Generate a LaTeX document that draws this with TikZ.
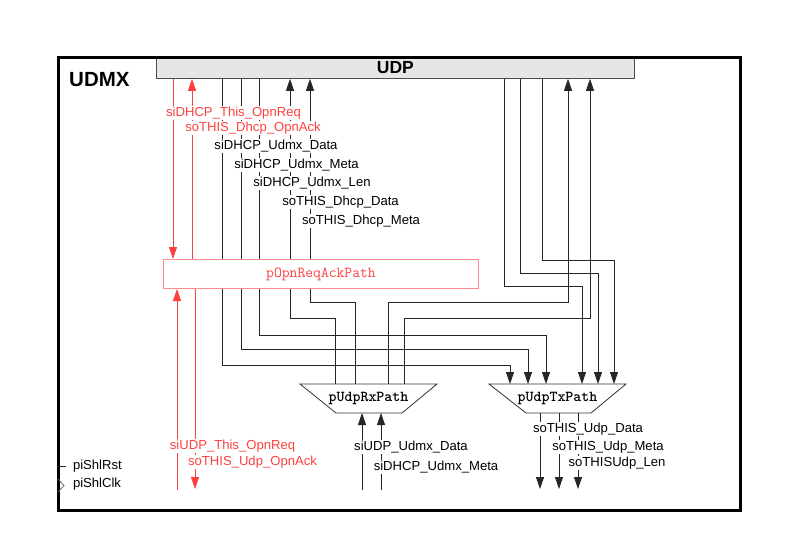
\documentclass[tikz,border=0pt]{standalone}
\usepackage{fontspec}
\setmainfont{Liberation Sans}
\usetikzlibrary{arrows.meta}
\definecolor{redA}{RGB}{255,64,64}
\definecolor{redB}{RGB}{255,140,140}
\definecolor{udpgray}{RGB}{230,230,230}
\begin{document}
\begin{tikzpicture}[x=1pt,y=-1pt,
 sig/.style={draw=black!85, line width=0.8pt},
 arr/.style={sig, -{Triangle[length=12pt,width=8pt]}},
 rsig/.style={draw=redA, line width=0.8pt},
 rarr/.style={rsig, -{Triangle[length=12pt,width=8pt]}},
 lbl/.style={fill=white, inner sep=0.8pt, font=\fontsize{13.1}{14}\selectfont, text height=9.6pt, text depth=2.6pt},
 rlbl/.style={lbl, text=redA},
 mono/.style={font=\ttfamily\bfseries\fontsize{15.2}{16}\selectfont},
 trap/.style={draw=black!80, line width=0.8pt, fill=white}
]
\useasboundingbox (0,0) rectangle (794,559);
% UDP block
\node[draw=black!70, fill=udpgray, line width=0.8pt, minimum width=478pt, minimum height=22pt,
      inner sep=0, anchor=north west, font=\bfseries\fontsize{17.5}{18}\selectfont] (udp) at (156,56) {UDP};
% outer frame
\node[draw, line width=3pt, minimum width=682pt, minimum height=453pt, inner sep=0, anchor=north west] (frame) at (57,56) {};
\node[anchor=west, inner sep=0, font=\bfseries\fontsize{20.5}{22}\selectfont] (title) at (69,80) {UDMX};

% trapezoid reference points
\coordinate (rxtop) at (368.5,384);
\coordinate (rxbot) at (368.5,413);
\coordinate (txtop) at (557.5,384);
\coordinate (txbot) at (557.5,413);

% UDP -> Tx (from DHCP side)
\draw[arr] (222,0 |- udp.south) |- (510,365) -- (510,0 |- txtop);
\draw[arr] (241,0 |- udp.south) |- (528,349) -- (528,0 |- txtop);
\draw[arr] (259,0 |- udp.south) |- (546,335) -- (546,0 |- txtop);
% Rx -> UDP
\draw[arr] (335,0 |- rxtop) |- (290,318) -- (290,0 |- udp.south);
\draw[arr] (355,0 |- rxtop) |- (310,302) -- (310,0 |- udp.south);
\draw[arr] (388,0 |- rxtop) |- (568,302) -- (568,0 |- udp.south);
\draw[arr] (404,0 |- rxtop) |- (590,318) -- (590,0 |- udp.south);
% UDP -> Tx
\draw[arr] (504,0 |- udp.south) |- (582,286) -- (582,0 |- txtop);
\draw[arr] (520,0 |- udp.south) |- (598,273) -- (598,0 |- txtop);
\draw[arr] (542,0 |- udp.south) |- (614,260) -- (614,0 |- txtop);

% pOpnReqAckPath
\node[draw=redB, fill=white, line width=1pt, minimum width=315pt, minimum height=29pt, inner sep=0,
      anchor=north west, text=redA, font=\ttfamily\fontsize{15.2}{16}\selectfont] (ack) at (163,259) {pOpnReqAckPath};

% red signals
\draw[rarr] (173,0 |- udp.south) -- (173,0 |- ack.north);
\draw[rarr] (192,0 |- ack.north) -- (192,0 |- udp.south);
\coordinate (r1) at (177,490);
\coordinate (r2) at (195,489);
\draw[rarr] (r1) -- (r1 |- ack.south);
\draw[rarr] (r2 |- ack.south) -- (r2);

% trapezoids
\draw[trap] (300,384) -- (437,384) -- (402,413) -- (336,413) -- cycle;
\node[mono] (rx) at (368.5,398) {pUdpRxPath};
\draw[trap] (489,384) -- (626,384) -- (591,413) -- (526,413) -- cycle;
\node[mono] (tx) at (557.5,398) {pUdpTxPath};

% Rx inputs
\coordinate (i1) at (362,490);
\coordinate (i2) at (381,490);
\draw[arr] (i1) -- (i1 |- rxbot);
\draw[arr] (i2) -- (i2 |- rxbot);
% Tx outputs
\coordinate (o1) at (540,489);
\coordinate (o2) at (559,489);
\coordinate (o3) at (578,489);
\draw[arr] (o1 |- txbot) -- (o1);
\draw[arr] (o2 |- txbot) -- (o2);
\draw[arr] (o3 |- txbot) -- (o3);

% ports
\draw[black!85, line width=0.8pt] (58,466) -- (66,466);
\draw[black!60, line width=0.8pt] (58,479) -- (64,485.5) -- (58,492);
\node[lbl, anchor=west] (rst) at (72,466) {piShlRst};
\node[lbl, anchor=west] (clk) at (72,484) {piShlClk};

% labels top
\node[rlbl] (l1) at (233.5,113) {siDHCP\_This\_OpnReq};
\node[rlbl] (l2) at (253,128) {soTHIS\_Dhcp\_OpnAck};
\node[lbl] (l3) at (276,146) {siDHCP\_Udmx\_Data};
\node[lbl] (l4) at (296.5,165) {siDHCP\_Udmx\_Meta};
\node[lbl] (l5) at (312,183) {siDHCP\_Udmx\_Len};
\node[lbl] (l6) at (340.5,202) {soTHIS\_Dhcp\_Data};
\node[lbl] (l7) at (361,221) {soTHIS\_Dhcp\_Meta};
% labels bottom
\node[rlbl] (l8) at (232.5,446) {siUDP\_This\_OpnReq};
\node[rlbl] (l9) at (252.5,462) {soTHIS\_Udp\_OpnAck};
\node[lbl] (l10) at (411,447) {siUDP\_Udmx\_Data};
\node[lbl] (l11) at (436,467) {siDHCP\_Udmx\_Meta};
\node[lbl] (l12) at (588,429) {soTHIS\_Udp\_Data};
\node[lbl] (l13) at (608,447) {soTHIS\_Udp\_Meta};
\node[lbl] (l14) at (617,463) {soTHISUdp\_Len};
\end{tikzpicture}
\end{document}
